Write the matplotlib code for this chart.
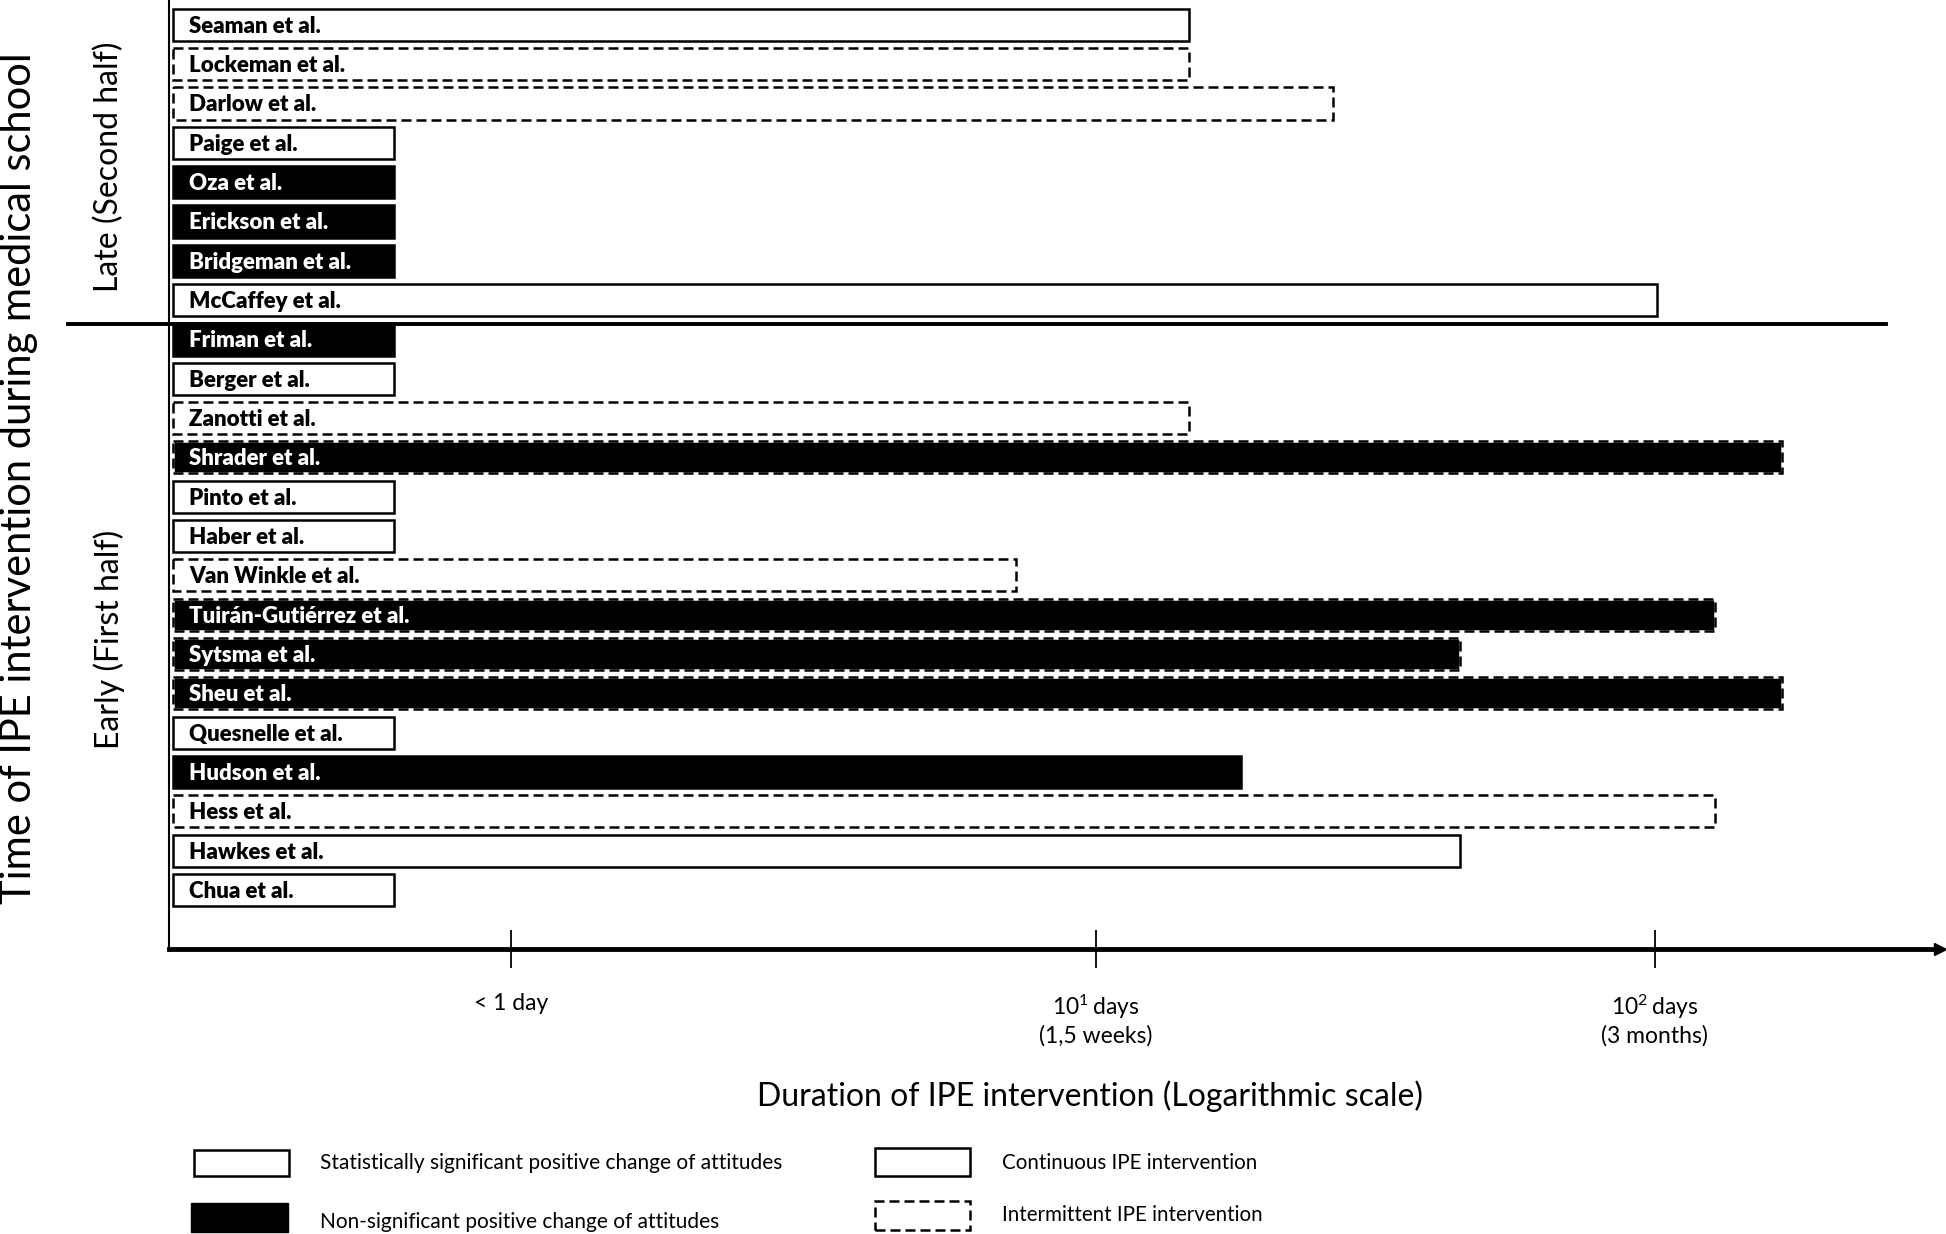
import matplotlib.pyplot as plt
import matplotlib.transforms as mtransforms
from matplotlib.patches import Rectangle
import numpy as np

plt.rcParams['font.family'] = ['Lato', 'DejaVu Sans']
plt.rcParams['mathtext.fontset'] = 'custom'
plt.rcParams['mathtext.rm'] = 'Lato'

studies = ['Seaman et al.', 'Lockeman et al.', 'Darlow et al.', 'Paige et al.', 'Oza et al.',
           'Erickson et al.', 'Bridgeman et al.', 'McCaffey et al.',
           'Friman et al.', 'Berger et al.', 'Zanotti et al.', 'Shrader et al.', 'Pinto et al.',
           'Haber et al.', 'Van Winkle et al.', 'Tuirán-Gutiérrez et al.', 'Sytsma et al.',
           'Sheu et al.', 'Quesnelle et al.', 'Hudson et al.', 'Hess et al.', 'Hawkes et al.',
           'Chua et al.']
# duration in days
duration = [14.7, 14.7, 26.6, 0.555, 0.555, 0.555, 0.555, 101,
            0.555, 0.555, 14.7, 169, 0.555, 0.555, 7.2, 128, 44.8, 169, 0.555, 18.2, 128, 44.8,
            0.555]
# True = statistically significant positive change (white), False = non-significant (black)
significant = [True, True, True, True, False, False, False, True,
               False, True, True, False, True, True, True, False, False, False, True, False,
               True, True, True]
# True = intermittent intervention (dashed outline)
intermittent = [False, True, True, False, False, False, False, False,
                False, False, True, True, False, False, True, True, True, True, False, False,
                True, False, False]
n_late = 8

tick_pos = [0.9, 10, 100]
tick_labels = ['< 1 day', '10$\\mathrm{^1}\\,$days\n(1,5 weeks)', '10$\\mathrm{^2}\\,$days\n(3 months)']

start = 0.224
ypos = np.arange(len(studies))

fig = plt.figure(figsize=(19.46, 12.34), dpi=100)
ax = fig.add_axes([0.0868, 0.231, 0.9102, 0.769])
ax.set_xscale('log')

dash = (0, (4, 2))
for y, name, d, sig, inter in zip(ypos, studies, duration, significant, intermittent):
    fc = 'white' if sig else 'black'
    if inter and not sig:
        ax.barh(y, d - start, left=start, height=0.82, color='black',
                edgecolor='white', linewidth=1.8)
        ax.barh(y, d - start, left=start, height=0.82, fill=False,
                edgecolor='black', linewidth=1.8, linestyle=dash)
    else:
        ax.barh(y, d - start, left=start, height=0.82, color=fc,
                edgecolor='black', linewidth=1.8, linestyle=dash if inter else '-')
    ax.annotate(name, (start, y), xytext=(11.5, -1), textcoords='offset points',
                va='center', ha='left', fontsize=16, fontweight='heavy',
                color='black' if sig else 'white')

ax.set_xlim(0.22, 324)
ax.set_ylim(23.5, -0.63)

# divider between late and early
trans = mtransforms.blended_transform_factory(ax.transAxes, ax.transData)
ax.plot([-0.057, 0.9695], [n_late - 0.4, n_late - 0.4], color='black', lw=2.8,
        transform=trans, clip_on=False)

for s in ['top', 'right']:
    ax.spines[s].set_visible(False)
ax.spines['left'].set_linewidth(1.5)
ax.spines['bottom'].set_linewidth(3.5)
ax.plot([1], [0], marker='>', color='black', markersize=9, transform=ax.transAxes,
        clip_on=False)

ax.set_yticks([])
ax.set_xticks(tick_pos)
ax.set_xticklabels(tick_labels, fontsize=16.5, linespacing=1.25)
ax.xaxis.set_minor_locator(plt.NullLocator())
ax.tick_params(axis='x', direction='inout', length=27, width=1.3, pad=18)

ax.set_xlabel('Duration of IPE intervention (Logarithmic scale)', fontsize=23)
ax.xaxis.set_label_coords(0.52, -0.138)

fig.text(0.0096, 0.6126, 'Time of IPE intervention during medical school', rotation=90,
         ha='center', va='center', fontsize=30)
fig.text(0.056, 0.865, 'Late (Second half)', rotation=90, ha='center', va='center', fontsize=23)
fig.text(0.056, 0.482, 'Early (First half)', rotation=90, ha='center', va='center', fontsize=23)

# legend
fig.add_artist(Rectangle((0.0997, 0.047), 0.0488, 0.021, transform=fig.transFigure,
                         facecolor='white', edgecolor='black', lw=1.8))
fig.add_artist(Rectangle((0.0982, 0.0016), 0.0498, 0.0235, transform=fig.transFigure,
                         facecolor='black', edgecolor='black', lw=1))
fig.add_artist(Rectangle((0.4496, 0.047), 0.0488, 0.0227, transform=fig.transFigure,
                         facecolor='white', edgecolor='black', lw=1.8))
fig.add_artist(Rectangle((0.4496, 0.0032), 0.0488, 0.0235, transform=fig.transFigure,
                         facecolor='white', edgecolor='black', lw=1.8, linestyle=dash))
fig.text(0.1645, 0.0575, 'Statistically significant positive change of attitudes',
         va='center', fontsize=15)
fig.text(0.1645, 0.0097, 'Non-significant positive change of attitudes', va='center', fontsize=15)
fig.text(0.5147, 0.0575, 'Continuous IPE intervention', va='center', fontsize=14.8)
fig.text(0.5147, 0.0154, 'Intermittent IPE intervention', va='center', fontsize=14.8)

fig.savefig('out.png', dpi=100)
